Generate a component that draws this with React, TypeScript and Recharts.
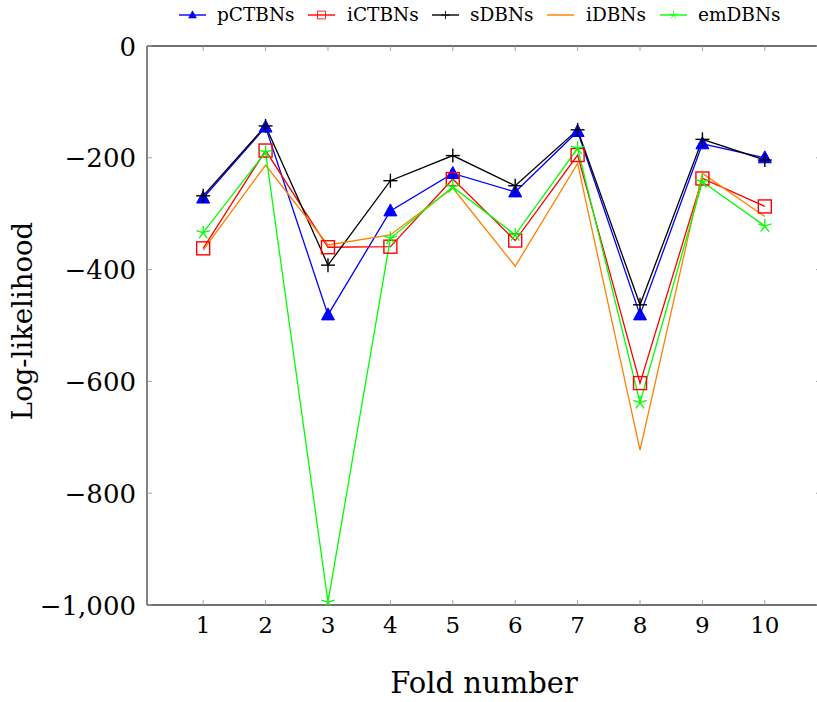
import React from 'react';
import { LineChart, Line, XAxis, YAxis, ReferenceLine, Legend } from 'recharts';

const folds = [1, 2, 3, 4, 5, 6, 7, 8, 9, 10];
const pCTBNs = [-272, -145, -481, -295, -228, -261, -153, -481, -175, -200];
const iCTBNs = [-362, -187, -360, -359, -238, -348, -195, -603, -237, -287];
const sDBNs = [-268, -143, -392, -241, -196, -250, -150, -463, -167, -204];
const iDBNs = [-365, -213, -356, -338, -254, -394, -210, -723, -228, -305];
const emDBNs = [-334, -190, -995, -344, -252, -338, -183, -638, -243, -322];
const yTicks = [0, -200, -400, -600, -800, -1000];
const seriesNames = ['pCTBNs', 'iCTBNs', 'sDBNs', 'iDBNs', 'emDBNs'];

const data = folds.map((f, i) => ({
  fold: f,
  pCTBNs: pCTBNs[i],
  iCTBNs: iCTBNs[i],
  sDBNs: sDBNs[i],
  iDBNs: iDBNs[i],
  emDBNs: emDBNs[i],
}));

const W = 825;
const H = 702;
const PLOT_LEFT = 147;
const PLOT_TOP = 46;
const PLOT_BOTTOM = 605;
const PLOT_RIGHT = 821;
const FONT = '"DejaVu Serif", serif';
const TICK_COLOR = '#a0a0a0';
const AXIS_COLOR = '#404040';

const colors: Record<string, string> = {
  pCTBNs: '#0000ff',
  iCTBNs: '#ff0000',
  sDBNs: '#000000',
  iDBNs: '#ff8000',
  emDBNs: '#00ff00',
};

function Marker({ name, cx, cy }: { name: string; cx: number; cy: number }) {
  const c = colors[name];
  if (name === 'pCTBNs') {
    return (
      <polygon
        points={`${cx},${cy - 7} ${cx - 6.5},${cy + 5} ${cx + 6.5},${cy + 5}`}
        fill={c}
        stroke={c}
        strokeWidth={1}
      />
    );
  }
  if (name === 'iCTBNs') {
    return <rect x={cx - 6.5} y={cy - 6.5} width={13} height={13} fill="none" stroke={c} strokeWidth={1.4} />;
  }
  if (name === 'sDBNs') {
    return (
      <g stroke={c} strokeWidth={1.4}>
        <line x1={cx - 7} y1={cy} x2={cx + 7} y2={cy} />
        <line x1={cx} y1={cy - 7} x2={cx} y2={cy + 7} />
      </g>
    );
  }
  if (name === 'emDBNs') {
    const rays = [0, 1, 2, 3, 4].map((k) => {
      const a = (-90 + k * 72) * (Math.PI / 180);
      return <line key={k} x1={cx} y1={cy} x2={cx + 7 * Math.cos(a)} y2={cy + 7 * Math.sin(a)} />;
    });
    return (
      <g stroke={c} strokeWidth={1.3}>
        {rays}
      </g>
    );
  }
  return null;
}

const makeDot = (name: string) => (props: any) => {
  const { cx, cy, index } = props;
  if (cx == null || cy == null) return <g key={`${name}-${index}`} />;
  return (
    <g key={`${name}-${index}`}>
      <Marker name={name} cx={cx} cy={cy} />
    </g>
  );
};

const fmtY = (v: number) => (v < 0 ? '\u2212' + Math.abs(v).toLocaleString('en-US') : String(v));

const YTick = (props: any) => {
  const { payload } = props;
  const y = payload.coordinate;
  return (
    <g>
      <line x1={PLOT_LEFT} y1={y} x2={PLOT_LEFT + 5} y2={y} stroke={TICK_COLOR} strokeWidth={1} />
      <line x1={PLOT_RIGHT - 5} y1={y} x2={PLOT_RIGHT} y2={y} stroke={TICK_COLOR} strokeWidth={1} />
      <text x={136} y={y + 9.5} textAnchor="end" fontFamily={FONT} fontSize={26} fill="#000">
        {fmtY(payload.value)}
      </text>
    </g>
  );
};

const XTick = (props: any) => {
  const { payload } = props;
  const x = payload.coordinate;
  return (
    <g>
      <line x1={x} y1={PLOT_BOTTOM} x2={x} y2={PLOT_BOTTOM - 5} stroke={TICK_COLOR} strokeWidth={1} />
      <line x1={x} y1={PLOT_TOP} x2={x} y2={PLOT_TOP + 5} stroke={TICK_COLOR} strokeWidth={1} />
      <text x={x} y={633} textAnchor="middle" fontFamily={FONT} fontSize={23} fill="#000">
        {payload.value}
      </text>
    </g>
  );
};

const legendLayout = [
  { name: 'pCTBNs', lx: 179, tx: 217 },
  { name: 'iCTBNs', lx: 308, tx: 347 },
  { name: 'sDBNs', lx: 432, tx: 470 },
  { name: 'iDBNs', lx: 547, tx: 586 },
  { name: 'emDBNs', lx: 660, tx: 698 },
];

const LegendContent = () => (
  <svg width={817} height={30} style={{ display: 'block' }}>
    {legendLayout.map((it) => {
      const c = colors[it.name];
      return (
        <g key={it.name}>
          <line x1={it.lx} y1={15} x2={it.lx + 27} y2={15} stroke={c} strokeWidth={1.4} />
          <g transform={`translate(${it.lx + 13.5},15) scale(0.6) translate(${-(it.lx + 13.5)},-15)`}>
            <Marker name={it.name} cx={it.lx + 13.5} cy={15} />
          </g>
          <text x={it.tx} y={21} fontFamily={FONT} fontSize={18.5} fill="#000">
            {it.name}
          </text>
        </g>
      );
    })}
  </svg>
);

export default function App() {
  return (
    <div style={{ position: 'absolute', left: 0, top: 0, width: 817, height: 702, overflow: 'hidden', background: '#fff' }}>
      <LineChart
        width={W}
        height={H}
        data={data}
        margin={{ top: PLOT_TOP - 30, right: W - PLOT_RIGHT, bottom: 0, left: 0 }}
      >
        <Legend
          verticalAlign="top"
          align="left"
          height={30}
          content={<LegendContent />}
          wrapperStyle={{ top: 0, left: 0, width: 817, height: 30 }}
        />
        <XAxis
          dataKey="fold"
          type="number"
          domain={[0.1, 10.9]}
          ticks={folds}
          height={H - PLOT_BOTTOM}
          tickLine={false}
          axisLine={{ stroke: AXIS_COLOR, strokeWidth: 1.3 }}
          tick={<XTick />}
          interval={0}
          allowDataOverflow
          label={(p: any) => (
            <text x={484} y={693} textAnchor="middle" fontFamily={FONT} fontSize={29} fill="#000">
              Fold number
            </text>
          )}
        />
        <YAxis
          type="number"
          domain={[-1000, 0]}
          ticks={yTicks}
          width={PLOT_LEFT}
          tickLine={false}
          axisLine={{ stroke: AXIS_COLOR, strokeWidth: 1.3 }}
          tick={<YTick />}
          interval={0}
          allowDataOverflow
          label={(p: any) => (
            <text
              x={32}
              y={321}
              textAnchor="middle"
              fontFamily={FONT}
              fontSize={27.5}
              fill="#000"
              transform="rotate(-90 32 321)"
            >
              Log-likelihood
            </text>
          )}
        />
        <ReferenceLine y={0} stroke={AXIS_COLOR} strokeWidth={1.3} />
        <ReferenceLine x={10.9} stroke={AXIS_COLOR} strokeWidth={1.3} />
        {seriesNames.map((n) => (
          <Line
            key={n}
            dataKey={n}
            type="linear"
            stroke={colors[n]}
            strokeWidth={1.3}
            dot={n === 'iDBNs' ? false : makeDot(n)}
            activeDot={false}
            isAnimationActive={false}
            legendType="none"
          />
        ))}
      </LineChart>
    </div>
  );
}
